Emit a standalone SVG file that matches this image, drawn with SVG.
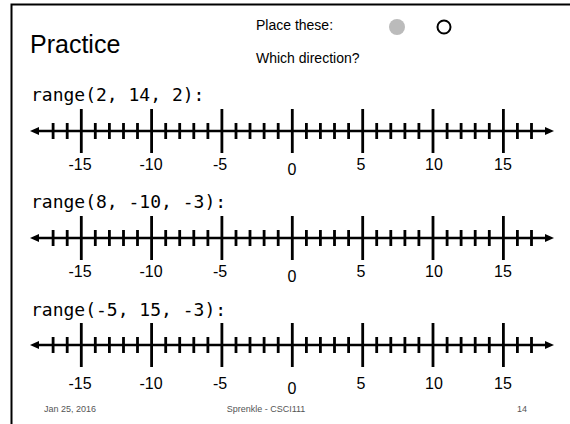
<svg xmlns="http://www.w3.org/2000/svg" xmlns:xlink="http://www.w3.org/1999/xlink" width="570" height="424" viewBox="0 0 570 424">
<style>
.ax{stroke:#000;stroke-width:2.5;fill:none}
.mj{stroke:#000;stroke-width:2.8;fill:none}
.mi{stroke:#000;stroke-width:2.8;fill:none}
.lbl{font-family:"Liberation Sans",Arial,sans-serif;font-size:16px;fill:#000;text-anchor:middle}
.code{font-family:"DejaVu Sans Mono",monospace;font-size:18px;fill:#000}
.foot{font-family:"Liberation Sans",Arial,sans-serif;font-size:9px;fill:#555}
.sans{font-family:"Liberation Sans",Arial,sans-serif;fill:#000}
</style>
<defs>
<g id="nl">
<line class="ax" x1="36" y1="0" x2="548" y2="0"/>
<polygon points="30,0 39,-4 39,4" fill="#000"/>
<polygon points="554,0 545,-4 545,4" fill="#000"/>
<path class="mi" d="M53.1 -8V8M67.2 -8V8M95.3 -8V8M109.4 -8V8M123.5 -8V8M137.5 -8V8M165.7 -8V8M179.7 -8V8M193.8 -8V8M207.9 -8V8M236 -8V8M250 -8V8M264.1 -8V8M278.2 -8V8M306.4 -8V8M320.4 -8V8M334.5 -8V8M348.6 -8V8M376.7 -8V8M390.8 -8V8M404.9 -8V8M418.9 -8V8M447.1 -8V8M461.1 -8V8M475.2 -8V8M489.3 -8V8M517.4 -8V8M531.5 -8V8"/>
<path class="mj" d="M81.3 -22V22M151.6 -22V22M221.9 -22V22M292.3 -22V22M362.7 -22V22M433 -22V22M503.4 -22V22"/>
</g>
<g id="lb">
<text class="lbl" x="80" y="0">-15</text>
<text class="lbl" x="151" y="0">-10</text>
<text class="lbl" x="220" y="0">-5</text>
<text class="lbl" x="292" y="5">0</text>
<text class="lbl" x="361" y="0">5</text>
<text class="lbl" x="434" y="0">10</text>
<text class="lbl" x="503" y="0">15</text>
</g>
</defs>
<rect width="570" height="424" fill="#fff"/>
<path d="M11.5 424V4.5H570" stroke="#000" stroke-width="2" fill="none"/>
<g id="header">
<text class="sans" x="30" y="53" font-size="25">Practice</text>
<text class="sans" x="256" y="30" font-size="14">Place these:</text>
<text class="sans" x="256" y="63" font-size="14">Which direction?</text>
<circle cx="397" cy="27" r="8" fill="#bbb"/>
<circle cx="444" cy="27" r="6.5" fill="none" stroke="#000" stroke-width="2"/>
</g>
<g id="line1">
<text class="code" x="31" y="101">range(2, 14, 2):</text>
<use xlink:href="#nl" y="131"/>
<use xlink:href="#lb" y="170"/>
</g>
<g id="line2">
<text class="code" x="31" y="208">range(8, -10, -3):</text>
<use xlink:href="#nl" y="238"/>
<use xlink:href="#lb" y="277"/>
</g>
<g id="line3">
<text class="code" x="31" y="316">range(-5, 15, -3):</text>
<use xlink:href="#nl" y="345"/>
<use xlink:href="#lb" y="389"/>
</g>
<g id="footer">
<text class="foot" x="44" y="412">Jan 25, 2016</text>
<text class="foot" x="266" y="412" text-anchor="middle">Sprenkle - CSCI111</text>
<text class="foot" x="527" y="412" text-anchor="end">14</text>
</g>
</svg>
